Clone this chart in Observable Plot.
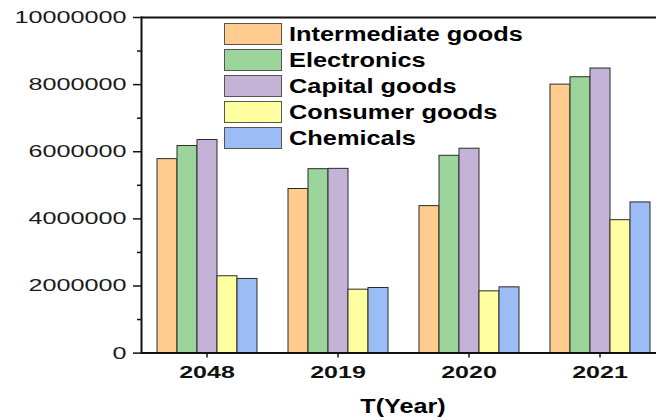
<!DOCTYPE html>
<html><head><meta charset="utf-8">
<script src="https://cdn.jsdelivr.net/npm/d3@7"></script>
<script src="https://cdn.jsdelivr.net/npm/@observablehq/plot@0.6"></script>
<style>
html,body{margin:0;padding:0;background:#fff;overflow:hidden;}
#wrap{position:relative;width:656px;height:420px;overflow:hidden;font-family:"Liberation Sans",Arial,sans-serif;background:#fff;}
.box{position:absolute;width:56px;height:20px;border:1px solid #555;}
.ltxt{position:absolute;font-weight:bold;font-size:19.5px;line-height:22px;white-space:nowrap;color:#000;transform:scaleX(1.3);transform-origin:left center;}
.xlab{position:absolute;font-weight:bold;font-size:19.5px;line-height:22px;white-space:nowrap;color:#000;transform:translateX(-50%) scaleX(1.29);transform-origin:center center;}
</style></head><body><div id="wrap"></div>
<script>
const years = ["2048", "2019", "2020", "2021"];
const series = ["Intermediate goods", "Electronics", "Capital goods", "Consumer goods", "Chemicals"];
const intermediate = [5780000, 4890000, 4380000, 8000000];
const electronics  = [6170000, 5480000, 5880000, 8220000];
const capital      = [6350000, 5490000, 6090000, 8480000];
const consumer     = [2290000, 1890000, 1840000, 3960000];
const chemicals    = [2210000, 1940000, 1960000, 4490000];
const colors = ["#FFCB8E", "#9BD59B", "#C5B3D7", "#FFFFA1", "#9CBCF5"];
const yTicks = [0, 2000000, 4000000, 6000000, 8000000, 10000000];
const yMinorTicks = [1000000, 3000000, 5000000, 7000000, 9000000];
const xTitle = "T(Year)";

const valueSets = [intermediate, electronics, capital, consumer, chemicals];
const rows = [];
years.forEach((yr, i) => series.forEach((s, j) => rows.push({year: yr, series: s, value: valueSets[j][i]})));

const plot = Plot.plot({
  width: 656, height: 420,
  marginLeft: 140, marginRight: -9.3, marginTop: 17, marginBottom: 67.4,
  style: {fontFamily: "'Liberation Sans', Arial, sans-serif", background: "transparent", overflow: "hidden"},
  fx: {domain: years, padding: 0, axis: null},
  x: {domain: series, paddingInner: 0, paddingOuter: 0.625, axis: null},
  y: {domain: [0, 10000000], axis: null},
  color: {domain: series, range: colors},
  marks: [
    Plot.barY(rows, {fx: "year", x: "series", y: "value", fill: "series", stroke: "#2a2a2a", strokeWidth: 1}),
    Plot.ruleY([0, 10000000], {stroke: "#111", strokeWidth: 2}),
    Plot.frame({anchor: "left", facetAnchor: "left", stroke: "#111", strokeWidth: 2}),
    Plot.axisY({ticks: yTicks, tickSize: 8, tickPadding: 7, tickFormat: d3.format("d"), fontSize: 17, fill: "#1a1a1a", stroke: "#111", strokeWidth: 1.5, label: null}),
    Plot.axisY({ticks: yMinorTicks, tickSize: 4, tickFormat: () => "", stroke: "#111", strokeWidth: 1.5, label: null}),
    Plot.axisFx({anchor: "bottom", tickSize: 5, tickPadding: 8, fontSize: 17, fontWeight: "bold", fill: "#111", stroke: "#111", strokeWidth: 1.5, label: null})
  ]
});
const wrap = document.getElementById("wrap");
wrap.appendChild(plot);

function stretch(sel, k) {
  plot.querySelectorAll(sel).forEach(t => {
    const L = t.getComputedTextLength();
    if (L > 0) { t.setAttribute("textLength", L * k); t.setAttribute("lengthAdjust", "spacingAndGlyphs"); }
  });
}
stretch('g[aria-label="y-axis tick label"] text', 1.48);
stretch('g[aria-label="fx-axis tick label"] text', 1.47);

// legend
series.forEach((s, i) => {
  const top = 23 + 26 * i;
  const b = document.createElement("div");
  b.className = "box";
  b.style.left = "224px"; b.style.top = top + "px"; b.style.background = colors[i];
  wrap.appendChild(b);
  const t = document.createElement("div");
  t.className = "ltxt";
  t.style.left = "289px"; t.style.top = top + "px";
  t.textContent = s;
  wrap.appendChild(t);
});
const xl = document.createElement("div");
xl.className = "xlab";
xl.style.left = "402.5px"; xl.style.top = "395px";
xl.textContent = xTitle;
wrap.appendChild(xl);
</script>
</body></html>
